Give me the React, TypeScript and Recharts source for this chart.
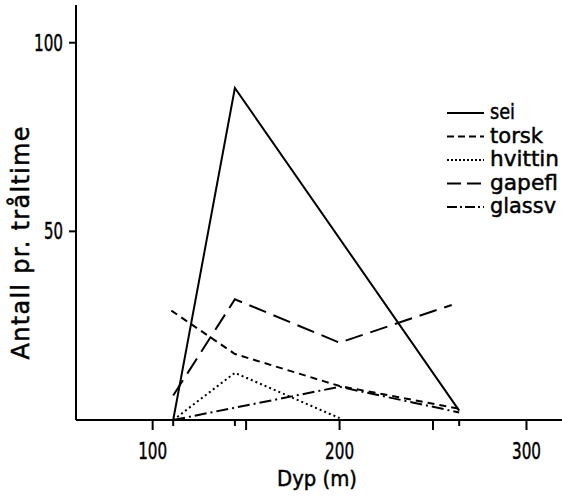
import React from "react";
import { LineChart, Line, XAxis, YAxis } from "recharts";

// depths (m) and catch per trawl hour
const seiDepth = [111, 144, 264];
const seiCatch = [0, 88, 2.5];
const torskDepth = [110, 144, 200, 264];
const torskCatch = [29, 17.5, 9, 3];
const hvittingDepth = [111, 144, 200];
const hvittingCatch = [0, 12.5, 0.5];
const gapeflDepth = [111, 144, 200, 260];
const gapeflCatch = [6.5, 32, 20.5, 30.5];
const glassvDepth = [111, 200, 264];
const glassvCatch = [0, 8.8, 2];

const xTicks = [100, 111, 144, 150, 200, 250, 264, 300];
const xLabels = [100, 200, 300];
const yTicks = [50, 100];

// legend labels as they show in the figure (cut at the right edge)
const legendLabels = ["sei", "torsk", "hvittin", "gapefl", "glassv"];

const FONT = "'DejaVu Sans', sans-serif";

const toRows = (xs: number[], ys: number[]) => xs.map((x, i) => ({ x, y: ys[i] }));

const series = [
  { name: "sei", data: toRows(seiDepth, seiCatch), dash: undefined },
  { name: "torsk", data: toRows(torskDepth, torskCatch), dash: "7 5" },
  { name: "hvitting", data: toRows(hvittingDepth, hvittingCatch), dash: "2 3" },
  { name: "gapeflyndre", data: toRows(gapeflDepth, gapeflCatch), dash: "18 8" },
  { name: "glassvar", data: toRows(glassvDepth, glassvCatch), dash: "12 4 2 4" },
];

const legendDash = [undefined, "7 4", "2 2", "14 6", "10 3 2 3"];
const legendWidth = [25, 53, 69, 68, 66];

// printed look: a thin stroke makes the glyphs a bit heavier
const ink = { fill: "#000", stroke: "#000", strokeWidth: 0.5, fontFamily: FONT };

function XTick(props: any) {
  const { x, y, payload } = props;
  const major = payload.value % 50 === 0;
  return (
    <g>
      <line x1={x} x2={x} y1={y} y2={y + (major ? 10 : 6)} stroke="#000" strokeWidth={2} />
      {xLabels.includes(payload.value) && (
        <text
          x={x}
          y={y + 39}
          textAnchor="middle"
          fontSize={23}
          textLength={29}
          lengthAdjust="spacingAndGlyphs"
          {...ink}
        >
          {payload.value}
        </text>
      )}
    </g>
  );
}

function YTick(props: any) {
  const { x, y, payload } = props;
  const w = String(payload.value).length * 10;
  return (
    <g>
      <line x1={x} x2={x - 7} y1={y} y2={y} stroke="#000" strokeWidth={2} />
      <text
        x={x - 42 + (30 - w)}
        y={y + 8}
        fontSize={23}
        textLength={w - 1}
        lengthAdjust="spacingAndGlyphs"
        {...ink}
      >
        {payload.value}
      </text>
    </g>
  );
}

export default function App() {
  return (
    <div style={{ position: "relative", width: 562, height: 497, overflow: "hidden", background: "#fff" }}>
      <style>{`body{margin:0}`}</style>
      <LineChart width={562} height={497} margin={{ top: 5, right: 0, left: 0, bottom: 0 }}>
        <XAxis
          dataKey="x"
          type="number"
          domain={[59, 319]}
          ticks={xTicks}
          interval={0}
          allowDataOverflow
          height={77}
          tickSize={0}
          tickMargin={0}
          tickLine={false}
          tick={<XTick />}
          axisLine={{ stroke: "#000", strokeWidth: 2 }}
        />
        <YAxis
          type="number"
          domain={[0, 110]}
          ticks={yTicks}
          interval={0}
          width={76}
          tickSize={0}
          tickMargin={0}
          tickLine={false}
          tick={<YTick />}
          axisLine={{ stroke: "#000", strokeWidth: 2 }}
        />
        {series.map((s) => (
          <Line
            key={s.name}
            data={s.data}
            dataKey="y"
            name={s.name}
            type="linear"
            stroke="#000"
            strokeWidth={2}
            strokeDasharray={s.dash}
            dot={false}
            isAnimationActive={false}
          />
        ))}
        <text
          x={0}
          y={0}
          transform="translate(29, 243) rotate(-90)"
          textAnchor="middle"
          fontSize={24}
          textLength={233}
          lengthAdjust="spacing"
          {...ink}
        >
          Antall pr. tråltime
        </text>
        <text
          x={317}
          y={486}
          textAnchor="middle"
          fontSize={22}
          textLength={80}
          lengthAdjust="spacingAndGlyphs"
          {...ink}
        >
          Dyp (m)
        </text>
        <g>
          {legendLabels.map((label, i) => {
            const cy = 113 + i * 23.5;
            return (
              <g key={label}>
                <line x1={447} x2={484} y1={cy} y2={cy} stroke="#000" strokeWidth={2} strokeDasharray={legendDash[i]} />
                <text
                  x={490}
                  y={cy + 6}
                  fontSize={22}
                  textLength={legendWidth[i]}
                  lengthAdjust="spacingAndGlyphs"
                  {...ink}
                >
                  {label}
                </text>
              </g>
            );
          })}
        </g>
      </LineChart>
    </div>
  );
}
